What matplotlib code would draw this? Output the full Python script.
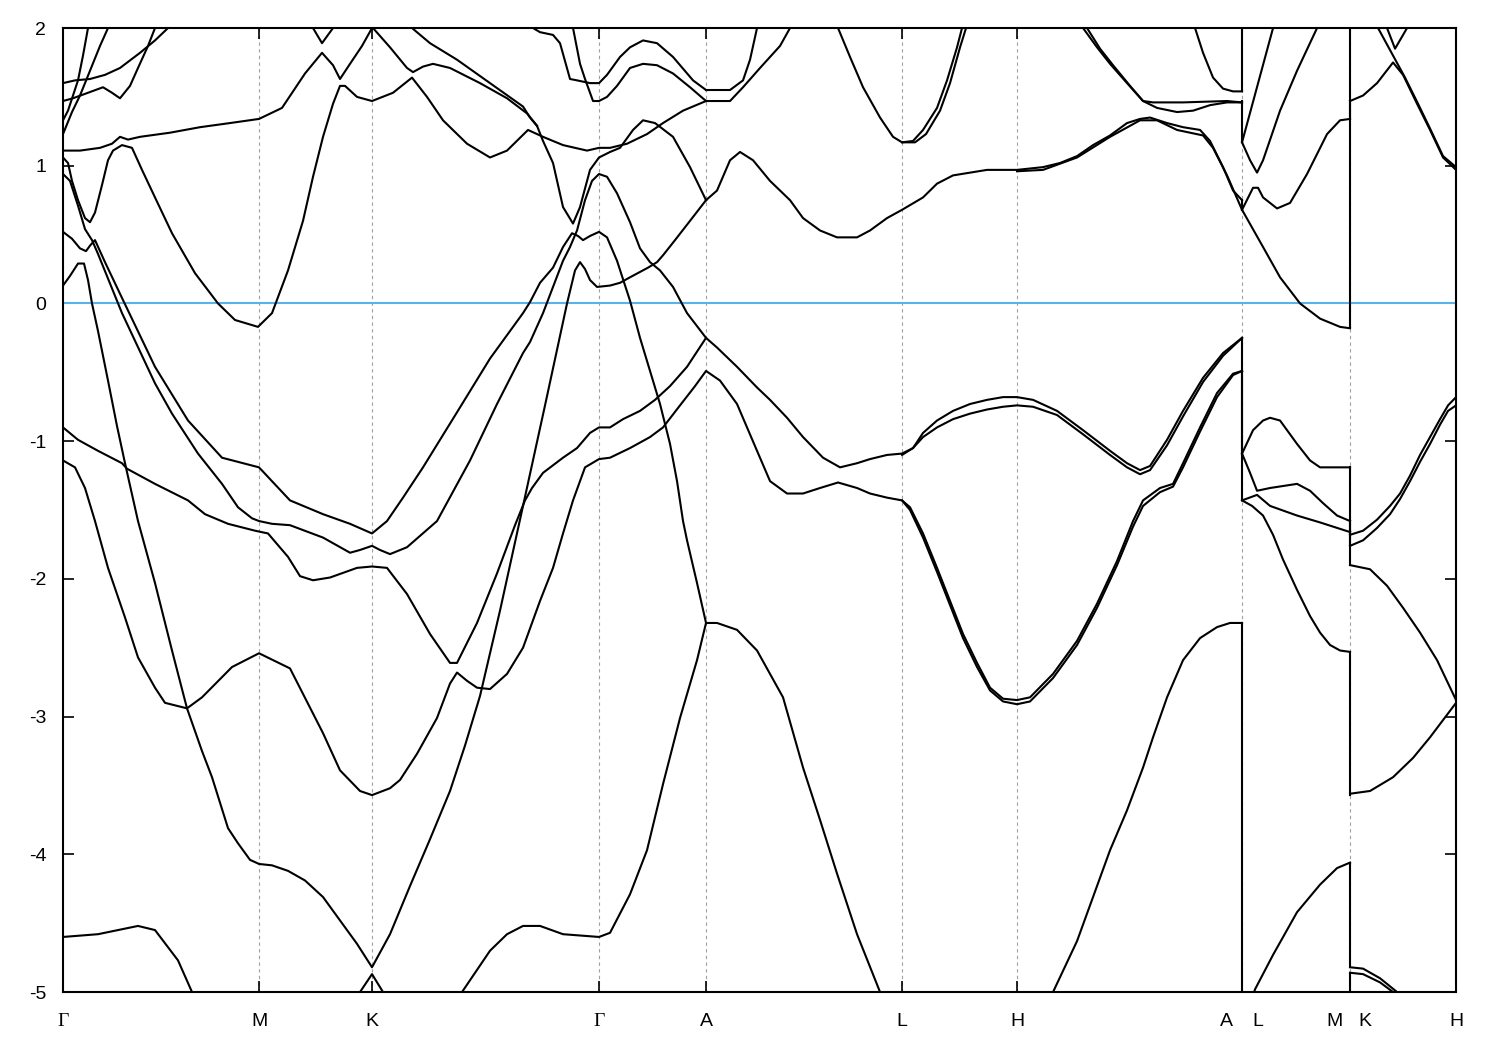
import matplotlib
matplotlib.use("Agg")
import matplotlib.pyplot as plt

plt.rcParams['axes.unicode_minus'] = False

# high-symmetry points along the path
kpts = [0.0, 0.196, 0.309, 0.536, 0.643, 0.839, 0.954, 1.179, 1.287, 1.393]
klabels = ['Γ', 'M', 'K', 'Γ', 'A', 'L', 'H', 'A|L', 'M|K', 'H']

# bands, (k, E) pairs
T1 = [(0, 1.60), (.012, 1.62), (.027, 1.63), (.042, 1.66), (.057, 1.71), (.077, 1.82), (.092, 1.91), (.105, 2.0)]
T2 = [(0, 1.47), (.010, 1.49), (.025, 1.53), (.040, 1.57), (.049, 1.53), (.057, 1.49), (.067, 1.58), (.075, 1.71), (.085, 1.87), (.092, 2.0)]
T3 = [(0, 1.33), (.005, 1.40), (.010, 1.51), (.015, 1.62), (.020, 1.80), (.025, 2.0)]
T4 = [(0, 1.23), (.009, 1.39), (.017, 1.51), (.027, 1.69), (.037, 1.87), (.045, 2.0)]
F = [(0, 1.11), (.017, 1.11), (.037, 1.13), (.049, 1.16), (.057, 1.21), (.065, 1.19), (.077, 1.21), (.107, 1.24),
     (.137, 1.28), (.167, 1.31), (.196, 1.34), (.219, 1.42), (.242, 1.67), (.259, 1.82), (.270, 1.73), (.277, 1.63),
     (.287, 1.74), (.299, 1.87), (.309, 2.0)]
V1 = [(.250, 2.0), (.259, 1.89), (.270, 2.0)]
P = [(0, 1.06), (.005, 1.02), (.009, 0.89), (.015, 0.75), (.022, 0.62), (.027, 0.59), (.032, 0.66), (.039, 0.86),
     (.045, 1.04), (.050, 1.11), (.059, 1.15), (.069, 1.13), (.079, 0.97), (.092, 0.77), (.109, 0.51), (.132, 0.22),
     (.155, 0.0), (.172, -0.12), (.195, -0.17), (.209, -0.07), (.225, 0.24), (.240, 0.60), (.250, 0.92), (.260, 1.21),
     (.270, 1.45), (.277, 1.58), (.282, 1.58), (.294, 1.50), (.309, 1.47), (.330, 1.53), (.349, 1.64), (.364, 1.50),
     (.380, 1.33), (.404, 1.16), (.427, 1.06), (.444, 1.11), (.465, 1.26), (.480, 1.21), (.500, 1.15), (.524, 1.11),
     (.536, 1.13), (.547, 1.13), (.564, 1.16), (.584, 1.23), (.600, 1.31), (.620, 1.40), (.643, 1.47)]
U1 = [(.310, 2.0), (.327, 1.86), (.344, 1.71), (.350, 1.68), (.360, 1.72), (.370, 1.74), (.387, 1.71), (.417, 1.60),
      (.444, 1.49), (.464, 1.38), (.474, 1.29), (.480, 1.18), (.490, 1.02), (.500, 0.70), (.510, 0.58), (.517, 0.70),
      (.527, 0.97), (.536, 1.06), (.547, 1.10), (.557, 1.13), (.570, 1.26), (.580, 1.33), (.592, 1.31), (.610, 1.21),
      (.627, 0.99), (.643, 0.75)]
U2 = [(.349, 2.0), (.367, 1.89), (.394, 1.77), (.427, 1.60), (.460, 1.43), (.467, 1.35), (.474, 1.29)]
TG1 = [(.470, 2.0), (.477, 1.97), (.490, 1.95), (.497, 1.89), (.502, 1.76), (.507, 1.63), (.514, 1.62), (.527, 1.60),
       (.536, 1.60), (.544, 1.66), (.557, 1.79), (.567, 1.86), (.580, 1.91), (.594, 1.89), (.610, 1.79), (.630, 1.62),
       (.643, 1.55)]
TG2 = [(.510, 2.0), (.517, 1.74), (.522, 1.63), (.527, 1.53), (.530, 1.47), (.536, 1.47), (.544, 1.50), (.554, 1.58),
       (.567, 1.71), (.580, 1.74), (.594, 1.73), (.610, 1.67), (.627, 1.57), (.643, 1.47)]
G1 = [(0, 0.52), (.009, 0.47), (.017, 0.40), (.023, 0.38), (.027, 0.42), (.032, 0.46), (.042, 0.30), (.059, 0.04),
      (.092, -0.46), (.125, -0.85), (.159, -1.12), (.196, -1.19), (.227, -1.43), (.260, -1.53), (.287, -1.60),
      (.309, -1.67), (.324, -1.58), (.340, -1.41), (.360, -1.19), (.394, -0.79), (.427, -0.40), (.460, -0.07),
      (.467, 0.01), (.477, 0.15), (.490, 0.26), (.500, 0.41), (.509, 0.51), (.515, 0.49), (.520, 0.46), (.527, 0.49),
      (.536, 0.52), (.544, 0.48), (.554, 0.31), (.567, 0.02), (.577, -0.25), (.587, -0.49), (.597, -0.73),
      (.607, -1.02), (.614, -1.29), (.620, -1.58), (.624, -1.72), (.634, -2.03), (.643, -2.32), (.654, -2.32),
      (.674, -2.37), (.694, -2.52), (.707, -2.69), (.720, -2.86), (.740, -3.37), (.757, -3.75), (.774, -4.14),
      (.794, -4.58), (.817, -5.0), (.827, -5.24)]
G2 = [(0, 0.94), (.007, 0.89), (.015, 0.71), (.022, 0.54), (.029, 0.46), (.035, 0.36), (.059, -0.07), (.092, -0.58),
      (.109, -0.80), (.135, -1.09), (.159, -1.31), (.175, -1.48), (.189, -1.56), (.196, -1.58), (.209, -1.60),
      (.227, -1.61), (.260, -1.70), (.287, -1.81), (.297, -1.79), (.309, -1.76), (.317, -1.79), (.327, -1.82),
      (.344, -1.77), (.374, -1.58), (.407, -1.14), (.434, -0.73), (.460, -0.36), (.467, -0.28), (.480, -0.07),
      (.490, 0.12), (.500, 0.31), (.507, 0.41), (.514, 0.53), (.522, 0.75), (.529, 0.89), (.536, 0.94), (.544, 0.92),
      (.554, 0.80), (.567, 0.59), (.577, 0.40), (.587, 0.30), (.597, 0.24), (.610, 0.12), (.624, -0.07), (.643, -0.25)]
C1 = [(0, -4.60), (.035, -4.58), (.075, -4.52), (.092, -4.55), (.115, -4.77), (.129, -5.0), (.137, -5.17)]
C1b = [(.287, -5.28), (.297, -5.0), (.309, -4.87), (.320, -5.0), (.332, -5.28)]
C1c = [(.387, -5.28), (.399, -5.0), (.427, -4.70), (.444, -4.58), (.460, -4.52), (.477, -4.52), (.500, -4.58),
       (.536, -4.60), (.547, -4.57), (.567, -4.29), (.584, -3.97), (.600, -3.49), (.617, -3.01), (.634, -2.59),
       (.643, -2.32)]
C2 = [(0, -1.14), (.012, -1.19), (.022, -1.34), (.032, -1.58), (.045, -1.92), (.062, -2.28), (.075, -2.57),
      (.092, -2.79), (.102, -2.90), (.124, -2.94), (.139, -2.86), (.169, -2.64), (.196, -2.54), (.227, -2.65),
      (.260, -3.12), (.277, -3.39), (.297, -3.54), (.309, -3.57), (.327, -3.52), (.337, -3.46), (.354, -3.27),
      (.374, -3.01), (.387, -2.76), (.394, -2.68), (.404, -2.74), (.414, -2.79), (.427, -2.80), (.444, -2.69),
      (.460, -2.50), (.477, -2.16), (.490, -1.92), (.500, -1.67), (.510, -1.43), (.522, -1.19), (.536, -1.13),
      (.547, -1.12), (.567, -1.05), (.587, -0.97), (.600, -0.90), (.617, -0.74), (.632, -0.60), (.643, -0.49),
      (.657, -0.56), (.674, -0.73), (.694, -1.07), (.707, -1.29), (.724, -1.38), (.740, -1.38), (.757, -1.34),
      (.775, -1.30), (.794, -1.34), (.807, -1.38), (.824, -1.41), (.839, -1.43), (.847, -1.48), (.860, -1.67),
      (.874, -1.92), (.887, -2.16), (.900, -2.40), (.914, -2.61), (.927, -2.79), (.940, -2.87), (.954, -2.88),
      (.967, -2.86), (.990, -2.69), (1.014, -2.45), (1.034, -2.18), (1.054, -1.87), (1.070, -1.58), (1.080, -1.43),
      (1.097, -1.34), (1.110, -1.31), (1.120, -1.16), (1.137, -0.90), (1.154, -0.65), (1.170, -0.51), (1.179, -0.49)]
C2b = [(.839, -1.43), (.847, -1.50), (.860, -1.70), (.874, -1.95), (.887, -2.19), (.900, -2.43), (.914, -2.64),
       (.927, -2.81), (.940, -2.89), (.954, -2.91), (.967, -2.89), (.990, -2.72), (1.014, -2.48), (1.034, -2.21),
       (1.054, -1.90), (1.070, -1.62), (1.080, -1.47), (1.097, -1.37), (1.110, -1.33), (1.120, -1.19),
       (1.137, -0.93), (1.154, -0.68), (1.170, -0.52), (1.179, -0.49)]
C3 = [(0, 0.13), (.007, 0.20), (.015, 0.29), (.021, 0.29), (.025, 0.17), (.029, 0.0), (.035, -0.20), (.045, -0.56),
      (.054, -0.89), (.062, -1.16), (.075, -1.58), (.092, -2.03), (.109, -2.52), (.124, -2.94), (.139, -3.25),
      (.149, -3.44), (.165, -3.81), (.175, -3.92), (.187, -4.04), (.196, -4.07), (.209, -4.08), (.225, -4.12),
      (.242, -4.19), (.260, -4.31), (.294, -4.65), (.309, -4.82), (.327, -4.58), (.347, -4.23), (.367, -3.89),
      (.387, -3.54), (.402, -3.21), (.417, -2.85), (.437, -2.23), (.460, -1.47), (.482, -0.74), (.504, 0.0),
      (.512, 0.24), (.517, 0.30), (.522, 0.25), (.527, 0.17), (.534, 0.12), (.547, 0.13), (.557, 0.15),
      (.567, 0.19), (.585, 0.26), (.594, 0.30), (.600, 0.35), (.612, 0.46), (.627, 0.60), (.643, 0.75)]
C4 = [(0, -0.90), (.015, -0.99), (.035, -1.07), (.059, -1.16), (.064, -1.20), (.092, -1.31), (.125, -1.43),
      (.142, -1.53), (.165, -1.60), (.192, -1.65), (.205, -1.67), (.225, -1.84), (.237, -1.98), (.250, -2.01),
      (.267, -1.99), (.294, -1.92), (.309, -1.91), (.324, -1.92), (.344, -2.11), (.367, -2.40), (.387, -2.61),
      (.394, -2.61), (.414, -2.32), (.434, -1.96), (.452, -1.61), (.462, -1.43), (.469, -1.34), (.480, -1.23),
      (.500, -1.12), (.514, -1.05), (.527, -0.94), (.536, -0.90), (.547, -0.90), (.560, -0.84), (.577, -0.78),
      (.592, -0.70), (.607, -0.60), (.624, -0.46), (.643, -0.25), (.654, -0.32), (.674, -0.46), (.694, -0.61),
      (.707, -0.70), (.724, -0.83), (.740, -0.97), (.760, -1.12), (.777, -1.19), (.794, -1.16), (.807, -1.13),
      (.824, -1.10), (.839, -1.09), (.850, -1.05), (.860, -0.94), (.874, -0.85), (.890, -0.78), (.907, -0.73),
      (.924, -0.70), (.940, -0.68), (.954, -0.68), (.970, -0.70), (.994, -0.78), (1.020, -0.92), (1.047, -1.07),
      (1.064, -1.16), (1.077, -1.21), (1.087, -1.18), (1.104, -0.99), (1.120, -0.78), (1.140, -0.54),
      (1.160, -0.36), (1.179, -0.25)]
C4b = [(.839, -1.10), (.850, -1.05), (.860, -0.97), (.874, -0.90), (.890, -0.84), (.907, -0.80), (.924, -0.77),
       (.940, -0.75), (.954, -0.74), (.970, -0.75), (.994, -0.81), (1.020, -0.95), (1.047, -1.10), (1.064, -1.19),
       (1.077, -1.24), (1.087, -1.21), (1.104, -1.03), (1.120, -0.82), (1.140, -0.57), (1.160, -0.38), (1.179, -0.25)]
HAlow = [(.977, -5.28), (.990, -5.0), (1.014, -4.63), (1.047, -3.97), (1.064, -3.68), (1.080, -3.37), (1.090, -3.15),
         (1.104, -2.86), (1.120, -2.59), (1.137, -2.43), (1.154, -2.35), (1.167, -2.32), (1.179, -2.32)]
AL1 = [(.643, 1.55), (.667, 1.55), (.680, 1.62), (.687, 1.77), (.694, 2.0)]
AL2 = [(.643, 1.47), (.667, 1.47), (.680, 1.57), (.697, 1.71), (.717, 1.87), (.727, 2.0)]
AL3 = [(.643, 0.75), (.654, 0.82), (.667, 1.04), (.677, 1.10), (.690, 1.04), (.707, 0.89), (.727, 0.75), (.740, 0.62),
       (.757, 0.53), (.774, 0.48), (.794, 0.48), (.807, 0.53), (.824, 0.62), (.834, 0.66), (.839, 0.68), (.860, 0.77),
       (.874, 0.87), (.890, 0.93), (.907, 0.95), (.924, 0.97), (.954, 0.97), (.980, 0.99), (.997, 1.02), (1.014, 1.07),
       (1.030, 1.15), (1.047, 1.22), (1.064, 1.31), (1.077, 1.34), (1.087, 1.35), (1.104, 1.31), (1.120, 1.28),
       (1.137, 1.26), (1.147, 1.18), (1.160, 0.99), (1.170, 0.82), (1.179, 0.75)]
AL3b = [(.954, 0.96), (.980, 0.97), (1.014, 1.06), (1.047, 1.21), (1.077, 1.33), (1.094, 1.33), (1.114, 1.26),
        (1.140, 1.22), (1.150, 1.13), (1.164, 0.93), (1.179, 0.68)]
LH1 = [(.775, 2.0), (.787, 1.79), (.800, 1.57), (.817, 1.35), (.830, 1.21), (.839, 1.17), (.850, 1.18), (.860, 1.26),
       (.874, 1.42), (.884, 1.62), (.894, 1.86), (.899, 2.0)]
LH1b = [(.839, 1.17), (.852, 1.17), (.863, 1.23), (.877, 1.40), (.887, 1.60), (.897, 1.86), (.903, 2.0)]
HA1 = [(1.020, 2.0), (1.034, 1.86), (1.047, 1.74), (1.064, 1.60), (1.080, 1.47), (1.090, 1.46), (1.120, 1.46),
       (1.164, 1.47), (1.179, 1.46)]
HA2 = [(1.024, 2.0), (1.037, 1.85), (1.050, 1.73), (1.067, 1.58), (1.080, 1.47), (1.094, 1.42), (1.114, 1.39),
       (1.130, 1.40), (1.147, 1.44), (1.164, 1.46), (1.179, 1.46)]
HA3 = [(1.132, 2.0), (1.140, 1.82), (1.150, 1.64), (1.160, 1.56), (1.170, 1.54), (1.179, 1.54)]
LM1 = [(1.179, 1.17), (1.210, 2.0)]
LM2 = [(1.179, 1.17), (1.187, 1.04), (1.194, 0.95), (1.200, 1.04), (1.217, 1.40), (1.234, 1.69), (1.254, 2.0)]
LM3 = [(1.179, 0.68), (1.190, 0.84), (1.195, 0.84), (1.200, 0.77), (1.214, 0.69), (1.227, 0.73), (1.244, 0.94),
       (1.264, 1.23), (1.277, 1.33), (1.287, 1.34)]
LM4 = [(1.179, 0.68), (1.200, 0.41), (1.217, 0.19), (1.237, 0.0), (1.257, -0.11), (1.277, -0.17), (1.287, -0.18)]
LM5 = [(1.179, -1.09), (1.190, -0.92), (1.200, -0.85), (1.207, -0.83), (1.217, -0.85), (1.234, -1.02),
       (1.247, -1.14), (1.257, -1.19), (1.287, -1.19)]
LM6 = [(1.179, -1.09), (1.187, -1.23), (1.194, -1.36), (1.207, -1.34), (1.234, -1.31), (1.247, -1.36),
       (1.260, -1.45), (1.274, -1.54), (1.287, -1.58)]
LM7 = [(1.179, -1.43), (1.194, -1.39), (1.207, -1.47), (1.234, -1.54), (1.257, -1.59), (1.287, -1.66)]
LM8 = [(1.179, -1.43), (1.189, -1.47), (1.200, -1.54), (1.210, -1.68), (1.220, -1.86), (1.234, -2.08),
       (1.247, -2.27), (1.257, -2.39), (1.267, -2.48), (1.277, -2.52), (1.287, -2.53)]
LM9 = [(1.182, -5.2), (1.192, -4.98), (1.210, -4.73), (1.234, -4.42), (1.257, -4.22), (1.274, -4.10), (1.287, -4.06)]
KH1 = [(1.287, 1.47), (1.300, 1.51), (1.314, 1.60), (1.330, 1.75), (1.340, 1.66), (1.354, 1.45), (1.367, 1.26),
       (1.380, 1.06), (1.393, 0.97)]
KH2 = [(1.315, 2.0), (1.330, 1.80), (1.342, 1.64), (1.355, 1.45), (1.367, 1.27), (1.380, 1.07), (1.393, 0.99)]
KH3 = [(1.324, 2.0), (1.332, 1.85), (1.344, 2.0)]
KH4 = [(1.287, -1.68), (1.300, -1.65), (1.314, -1.57), (1.327, -1.47), (1.337, -1.38), (1.347, -1.25),
       (1.357, -1.10), (1.367, -0.97), (1.377, -0.84), (1.385, -0.74), (1.393, -0.68)]
KH5 = [(1.287, -1.76), (1.300, -1.72), (1.314, -1.63), (1.327, -1.53), (1.337, -1.42), (1.347, -1.29),
       (1.357, -1.15), (1.367, -1.02), (1.377, -0.88), (1.385, -0.78), (1.393, -0.74)]
KH6 = [(1.287, -1.90), (1.307, -1.93), (1.324, -2.05), (1.340, -2.21), (1.357, -2.39), (1.374, -2.59), (1.393, -2.88)]
KH7 = [(1.287, -3.56), (1.307, -3.54), (1.330, -3.44), (1.350, -3.30), (1.367, -3.15), (1.393, -2.90)]
KH8 = [(1.287, -4.82), (1.300, -4.83), (1.317, -4.90), (1.334, -5.0), (1.342, -5.06)]
KH9 = [(1.287, -4.86), (1.300, -4.87), (1.317, -4.93), (1.330, -5.0), (1.337, -5.05)]

# vertical joins at the path breaks (energy before, energy after)
joins_AL = [(1.54, 2.1), (1.47, 1.17), (0.75, 0.69), (-0.25, -1.10), (-0.49, -1.43), (-2.32, -5.1)]
joins_MK = [(1.35, 2.1), (-0.17, 1.47), (-1.19, -1.68), (-1.58, -1.76), (-1.65, -1.90), (-2.54, -3.57),
            (-4.06, -4.82), (-5.1, -4.86)]

bands = [T1, T2, T3, T4, F, V1, P, U1, U2, TG1, TG2, G1, G2, C1, C1b, C1c, C2, C2b, C3, C4, C4b, HAlow,
         AL1, AL2, AL3, AL3b, LH1, LH1b, HA1, HA2, HA3, LM1, LM2, LM3, LM4, LM5, LM6, LM7, LM8, LM9,
         KH1, KH2, KH3, KH4, KH5, KH6, KH7, KH8, KH9]

fig = plt.figure(figsize=(15, 10.5), dpi=100)
ax = fig.add_axes([0.042, 0.0552, 0.9287, 0.9181])

for kx in kpts[1:-1]:
    ax.axvline(kx, color='#a0a0a0', lw=0.8, ls=(0, (3, 3)), zorder=1)

ax.axhline(0, color='#56b4e9', lw=1.5, zorder=2)

for b in bands:
    ks = [p[0] for p in b]
    es = [p[1] for p in b]
    ax.plot(ks, es, color='black', lw=1.5, zorder=3, solid_joinstyle='round')

for lo, hi in joins_AL:
    ax.plot([kpts[7], kpts[7]], [lo, hi], color='black', lw=1.5, zorder=3)
for lo, hi in joins_MK:
    ax.plot([kpts[8], kpts[8]], [lo, hi], color='black', lw=1.5, zorder=3)

ax.set_xlim(kpts[0], kpts[-1])
ax.set_ylim(-5, 2)
ax.set_yticks(range(-5, 3))
ax.set_yticklabels([str(v) for v in range(-5, 3)], fontsize=14, family='Liberation Sans')
ax.tick_params(axis='y', direction='in', length=8, width=1.2, right=True, pad=12)
ax.set_xticks(kpts)
ax.set_xticklabels([])
ax.tick_params(axis='x', direction='in', length=8, width=1.2, top=True)
for s in ax.spines.values():
    s.set_linewidth(1.5)

# x labels (the two path breaks carry two letters each)
for kx, lab in zip(kpts, klabels):
    parts = lab.split('|')
    offs = [0] if len(parts) == 1 else [-11, 11]
    for part, dx in zip(parts, offs):
        fam = 'Liberation Serif' if part == 'Γ' else 'Liberation Sans'
        ax.annotate(part, xy=(kx, 0), xycoords=('data', 'axes fraction'), xytext=(dx, -15),
                    textcoords='offset points', ha='center', va='top', fontsize=14, family=fam)

fig.savefig('out.png', dpi=100)
